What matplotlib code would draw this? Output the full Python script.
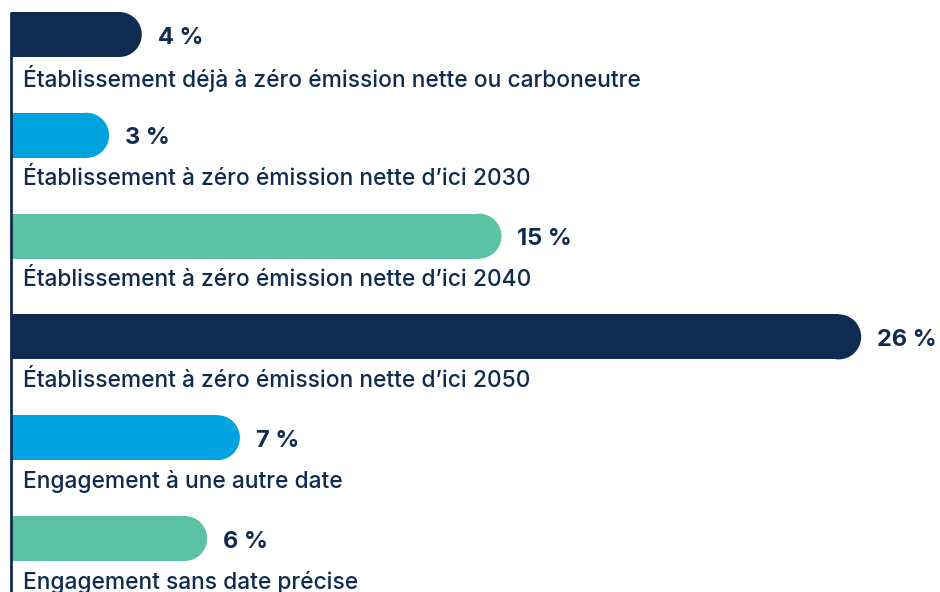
import matplotlib
matplotlib.use("Agg")
import matplotlib.pyplot as plt
from matplotlib.patches import Ellipse

# data
categories = [
    "Établissement déjà à zéro émission nette ou carboneutre",
    "Établissement à zéro émission nette d’ici 2030",
    "Établissement à zéro émission nette d’ici 2040",
    "Établissement à zéro émission nette d’ici 2050",
    "Engagement à une autre date",
    "Engagement sans date précise",
]
values = [4, 3, 15, 26, 7, 6]
value_labels = ["4 %", "3 %", "15 %", "26 %", "7 %", "6 %"]

NAVY = "#0f2b4f"
BLUE = "#00a3e0"
GREEN = "#5bc2a4"
colors = [NAVY, BLUE, GREEN, NAVY, BLUE, GREEN]

W, H = 940, 592
px_per_unit_x = 32.7      # pixels per percent
px_per_unit_y = 100.8     # pixels between bars
x0_px = 11                # left edge of bars
y0_px = 34.5              # centre of first bar
bar_h_px = 45

plt.rcParams['font.family'] = ['Inter', 'DejaVu Sans']

fig = plt.figure(figsize=(W / 100, H / 100), dpi=100)
ax = fig.add_axes([0, 0, 1, 1])
ax.set_xlim(-x0_px / px_per_unit_x, (W - x0_px) / px_per_unit_x)
ax.set_ylim((H - y0_px) / px_per_unit_y, -y0_px / px_per_unit_y)
ax.axis("off")

bh = bar_h_px / px_per_unit_y
rx = (bar_h_px / 2) / px_per_unit_x

for i, (v, c) in enumerate(zip(values, colors)):
    ax.barh(i, v - rx, height=bh, left=0, color=c, linewidth=0)
    ax.add_patch(Ellipse((v - rx, i), 2 * rx, bh, color=c, linewidth=0))
    ax.text(v + 16 / px_per_unit_x, i + 3 / px_per_unit_y, value_labels[i],
            ha="left", va="center", fontsize=17, fontweight="bold", color=NAVY)
    ax.text(12 / px_per_unit_x, i + 44 / px_per_unit_y, categories[i],
            ha="left", va="center", fontsize=16.4, fontweight="medium", color=NAVY)

# left axis line
ax.plot([0, 0], [-bh / 2, (H - y0_px) / px_per_unit_y], color=NAVY, lw=2,
        solid_capstyle="butt")

fig.savefig("out.png", dpi=100)
